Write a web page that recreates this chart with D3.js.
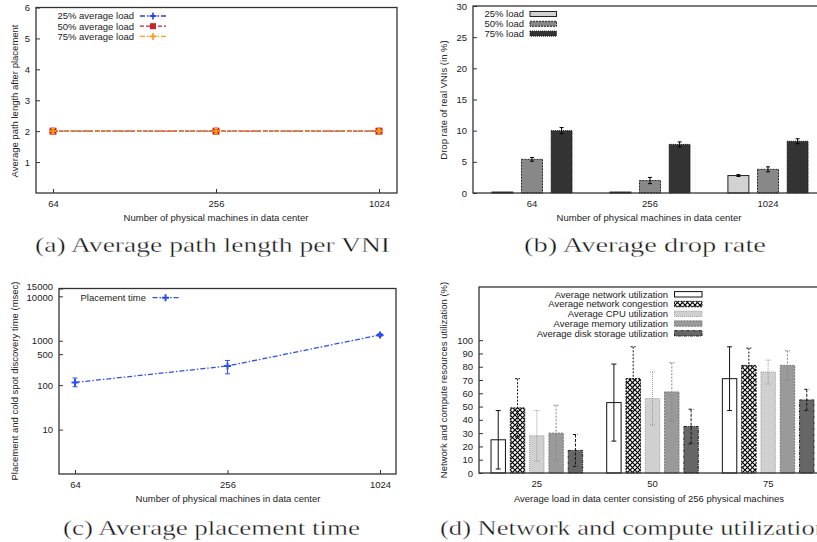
<!DOCTYPE html>
<html><head><meta charset="utf-8">
<script src="https://cdn.jsdelivr.net/npm/d3@7"></script>
<style>
body{margin:0;background:#fff}
svg{display:block}
text{font-family:"Liberation Sans",Arial,Helvetica,sans-serif;fill:#222}
text.cap{font-family:"Liberation Serif",Tinos,"Times New Roman",serif;fill:#111}
</style>
</head><body>
<svg id="c" width="817" height="542"></svg>
<script>
// ---------------- DATA ----------------
const machines = [64, 256, 1024];

// (a) average path length
const pathNames = ["25% average load", "50% average load", "75% average load"];
const path25 = [2.0, 2.0, 2.0];
const path50 = [2.0, 2.0, 2.0];
const path75 = [2.0, 2.0, 2.0];
const pathErr = [0.08, 0.08, 0.06];
const pathTicks = [1, 2, 3, 4, 5, 6];

// (b) drop rate
const dropNames = ["25% load", "50% load", "75% load"];
const drop25 = [0.15, 0.15, 2.8];
const drop50 = [5.4, 2.0, 3.8];
const drop75 = [10.0, 7.8, 8.3];
const drop25Err = [0, 0, 0.15];
const drop50Err = [0.3, 0.5, 0.4];
const drop75Err = [0.5, 0.4, 0.4];
const dropTicks = [0, 5, 10, 15, 20, 25, 30];

// (c) placement time
const placeName = "Placement time";
const placeTime = [115, 270, 1350];
const placeLo = [92, 180, 1260];
const placeHi = [145, 360, 1440];
const placeTicks = [10, 100, 500, 1000, 10000, 15000];

// (d) utilization
const loadLevels = ["25", "50", "75"];
const utilNames = ["Average network utilization", "Average network congestion", "Average CPU utilization", "Average memory utilization", "Average disk storage utilization"];
const utilNet = [25, 53, 71], netLo = [3, 24, 47], netHi = [47, 82, 95];
const utilCong = [49, 71, 81], congLo = [27, 47, 68], congHi = [71, 95, 94];
const utilCpu = [28, 56, 76], cpuLo = [9, 36, 67], cpuHi = [47, 76, 85];
const utilMem = [30, 61, 81], memLo = [9, 39, 70], memHi = [51, 83, 92];
const utilDisk = [17, 35, 55], diskLo = [5, 22, 47], diskHi = [29, 48, 63];
const utilTicks = [0, 10, 20, 30, 40, 50, 60, 70, 80, 90, 100];

const captions = ["(a) Average path length per VNI", "(b) Average drop rate", "(c) Average placement time", "(d) Network and compute utilization"];

// ---------------- DRAW ----------------
const svg = d3.select("#c");
const defs = svg.append("defs");
const pat = defs.append("pattern").attr("id", "xhatch").attr("patternUnits", "userSpaceOnUse")
  .attr("width", 5).attr("height", 5);
pat.append("rect").attr("width", 5).attr("height", 5).attr("fill", "#fff");
pat.append("path").attr("d", "M-1,-1L6,6M6,-1L-1,6").attr("stroke", "#000").attr("stroke-width", 1.2);

const FS = 9.5;
const AX = "#333";

function frame(P) {
  svg.append("rect").attr("x", P.l).attr("y", P.t).attr("width", P.r - P.l).attr("height", P.b - P.t)
    .attr("fill", "none").attr("stroke", AX).attr("stroke-width", 1.3);
}
function yAxis(P, y, ticks, fmt) {
  const g = svg.append("g").attr("transform", `translate(${P.l},0)`)
    .call(d3.axisLeft(y).tickValues(ticks).tickSizeInner(-4).tickSizeOuter(0).tickPadding(6).tickFormat(fmt || d3.format("d")));
  g.select(".domain").remove();
  g.selectAll("line").attr("stroke", AX);
  g.selectAll("text").attr("font-size", FS).attr("fill", "#222").attr("font-family", null);
  return g;
}
function xAxis(P, x, ticks, withLines) {
  const ax = d3.axisBottom(x).tickSizeInner(withLines ? -4 : 0).tickSizeOuter(0).tickPadding(7);
  if (ticks) ax.tickValues(ticks).tickFormat(d3.format("d"));
  const g = svg.append("g").attr("transform", `translate(0,${P.b})`).call(ax);
  g.select(".domain").remove();
  g.selectAll("line").attr("stroke", AX);
  if (!withLines) g.selectAll("line").remove();
  g.selectAll("text").attr("font-size", FS).attr("fill", "#222").attr("font-family", null);
}
function label(x, y, txt, rot) {
  const t = svg.append("text").attr("font-size", FS).attr("text-anchor", "middle").attr("dy", "0.35em").text(txt);
  if (rot) t.attr("transform", `translate(${x},${y}) rotate(-90)`);
  else t.attr("x", x).attr("y", y);
}
function plus(g, x, y, s, color, w) {
  g.append("path").attr("d", `M${x - s},${y}H${x + s}M${x},${y - s}V${y + s}`).attr("stroke", color).attr("stroke-width", w || 1.3);
}

// ===== Panel (a) =====
{
  const P = {l: 36, t: 7.5, r: 397, b: 193};
  const x = d3.scaleLog().base(2).domain(d3.extent(machines)).range([P.l + 17, P.r - 18]);
  const y = d3.scaleLinear().domain([0, 6]).range([P.b, P.t]);
  const series = [
    {name: pathNames[0], vals: path25, color: "#1f3cf0", dash: "5,2,1.5,2", mark: "plus"},
    {name: pathNames[1], vals: path50, color: "#c8252b", dash: "4,2", mark: "square"},
    {name: pathNames[2], vals: path75, color: "#ff9a10", dash: "5,2,1.5,2", mark: "plus"}
  ];
  const g = svg.append("g");
  const line = d3.line().x((d, i) => x(machines[i])).y(d => y(d));
  series.forEach(s => {
    g.append("path").attr("d", line(s.vals)).attr("fill", "none").attr("stroke", s.color)
      .attr("stroke-width", 1.3).attr("stroke-dasharray", s.dash);
  });
  series.forEach(s => {
    s.vals.forEach((v, i) => {
      const cx = x(machines[i]), cy = y(v);
      g.append("path").attr("d", `M${cx - 2},${y(v + pathErr[i])}H${cx + 2}M${cx},${y(v + pathErr[i])}V${y(v - pathErr[i])}M${cx - 2},${y(v - pathErr[i])}H${cx + 2}`)
        .attr("stroke", s.color).attr("stroke-width", 1.2).attr("fill", "none");
      if (s.mark === "square") {
        g.append("rect").attr("x", cx - 3.5).attr("y", cy - 3.5).attr("width", 7).attr("height", 7).attr("fill", s.color);
      } else plus(g, cx, cy, 3.5, s.color, 1.6);
    });
  });
  frame(P);
  yAxis(P, y, pathTicks);
  xAxis(P, x, machines, true);
  label(15, 101, "Average path length after placement", true);
  label(216, 218, "Number of physical machines in data center");
  // legend
  series.forEach((s, i) => {
    const ly = 16 + i * 10.2;
    svg.append("text").attr("x", 134).attr("y", ly).attr("dy", "0.35em").attr("text-anchor", "end").attr("font-size", FS).text(s.name);
    svg.append("line").attr("x1", 140).attr("x2", 166).attr("y1", ly).attr("y2", ly).attr("stroke", s.color)
      .attr("stroke-width", 1.3).attr("stroke-dasharray", s.dash);
    if (s.mark === "square") svg.append("rect").attr("x", 150).attr("y", ly - 3).attr("width", 6).attr("height", 6).attr("fill", s.color);
    else plus(svg, 153, ly, 3.5, s.color, 1.6);
  });
}

// ===== Panel (b) =====
{
  const P = {l: 473, t: 6, r: 827, b: 193};
  const x = d3.scaleBand().domain(machines).range([P.l, P.r]).padding(0);
  const y = d3.scaleLinear().domain([0, 30]).range([P.b, P.t]);
  const series = [
    {name: dropNames[0], vals: drop25, err: drop25Err, fill: "#d2d2d2", stroke: "#222", dash: null},
    {name: dropNames[1], vals: drop50, err: drop50Err, fill: "#888", stroke: "#222", dash: "2,1"},
    {name: dropNames[2], vals: drop75, err: drop75Err, fill: "#333", stroke: "#111", dash: "1,1"}
  ];
  const pitch = 29.6, bw = 21;
  series.forEach((s, si) => {
    s.vals.forEach((v, i) => {
      const cx = x(machines[i]) + x.bandwidth() / 2 + (si - 1) * pitch;
      svg.append("rect").attr("x", cx - bw / 2).attr("y", y(v)).attr("width", bw).attr("height", y(0) - y(v))
        .attr("fill", s.fill).attr("stroke", s.stroke).attr("stroke-width", 1).attr("stroke-dasharray", s.dash);
      if (s.err[i] > 0) {
        const t = y(v + s.err[i]), b = y(v - s.err[i]);
        svg.append("path").attr("d", `M${cx - 2},${t}H${cx + 2}M${cx},${t}V${b}M${cx - 2},${b}H${cx + 2}`)
          .attr("stroke", "#000").attr("stroke-width", 1).attr("fill", "none");
      }
    });
  });
  frame(P);
  yAxis(P, y, dropTicks);
  xAxis(P, x, null, false);
  label(444, 100, "Drop rate of real VNIs (in %)", true);
  label(649, 218, "Number of physical machines in data center");
  series.forEach((s, i) => {
    const ly = 14 + i * 9.8;
    svg.append("text").attr("x", 524).attr("y", ly).attr("dy", "0.35em").attr("text-anchor", "end").attr("font-size", FS).text(s.name);
    svg.append("rect").attr("x", 530).attr("y", ly - 2.5).attr("width", 26.5).attr("height", 5)
      .attr("fill", s.fill).attr("stroke", s.stroke).attr("stroke-width", 1).attr("stroke-dasharray", s.dash);
  });
}

// ===== Panel (c) =====
{
  const P = {l: 59, t: 288.5, r: 396, b: 474};
  const x = d3.scaleLog().base(2).domain(d3.extent(machines)).range([P.l + 16, P.r - 16]);
  const y = d3.scaleLog().domain([1, 15000]).range([P.b, P.t]);
  const color = "#2a4ef0";
  const line = d3.line().x((d, i) => x(machines[i])).y(d => y(d));
  svg.append("path").attr("d", line(placeTime)).attr("fill", "none").attr("stroke", color)
    .attr("stroke-width", 1.3).attr("stroke-dasharray", "5,2,1.5,2");
  placeTime.forEach((v, i) => {
    const cx = x(machines[i]), t = y(placeHi[i]), b = y(placeLo[i]);
    svg.append("path").attr("d", `M${cx - 2.5},${t}H${cx + 2.5}M${cx},${t}V${b}M${cx - 2.5},${b}H${cx + 2.5}`)
      .attr("stroke", color).attr("stroke-width", 1).attr("fill", "none");
    plus(svg, cx, y(v), 3.5, color, 2);
  });
  frame(P);
  const gy = yAxis(P, y, placeTicks);
  // the two top labels are squeezed together, as in the original
  gy.selectAll("text").filter(d => d === 15000).attr("dy", "0.1em");
  gy.selectAll("text").filter(d => d === 10000).attr("dy", "0.45em");
  xAxis(P, x, machines, true);
  label(15, 381, "Placement and cold spot discovery time (msec)", true);
  label(228, 499, "Number of physical machines in data center");
  const ly = 297.7;
  svg.append("text").attr("x", 146).attr("y", ly).attr("dy", "0.35em").attr("text-anchor", "end").attr("font-size", FS).text(placeName);
  svg.append("line").attr("x1", 152.5).attr("x2", 179).attr("y1", ly).attr("y2", ly).attr("stroke", color)
    .attr("stroke-width", 1.3).attr("stroke-dasharray", "5,2,1.5,2");
  plus(svg, 165.5, ly, 3.5, color, 2);
}

// ===== Panel (d) =====
{
  const P = {l: 479, t: 287, r: 826, b: 473};
  const x = d3.scaleBand().domain(loadLevels).range([P.l, P.r]).padding(0);
  const y = d3.scaleLinear().domain([0, 140]).range([P.b, P.t]);
  const series = [
    {name: utilNames[0], vals: utilNet, lo: netLo, hi: netHi, fill: "#fff", stroke: "#111", dash: null, ec: "#111", ed: null},
    {name: utilNames[1], vals: utilCong, lo: congLo, hi: congHi, fill: "url(#xhatch)", stroke: "#111", dash: "2,1", ec: "#111", ed: "2,1.5"},
    {name: utilNames[2], vals: utilCpu, lo: cpuLo, hi: cpuHi, fill: "#d0d0d0", stroke: "#999", dash: "1,1", ec: "#999", ed: "1,1"},
    {name: utilNames[3], vals: utilMem, lo: memLo, hi: memHi, fill: "#9a9a9a", stroke: "#777", dash: "2,1", ec: "#888", ed: "2,1.5"},
    {name: utilNames[4], vals: utilDisk, lo: diskLo, hi: diskHi, fill: "#666", stroke: "#222", dash: "3,1,1,1", ec: "#111", ed: "3,1.5"}
  ];
  const pitch = 19.3, bw = 14.4;
  series.forEach((s, si) => {
    s.vals.forEach((v, i) => {
      const cx = x(loadLevels[i]) + x.bandwidth() / 2 + (si - 2) * pitch;
      svg.append("rect").attr("x", cx - bw / 2).attr("y", y(v)).attr("width", bw).attr("height", y(0) - y(v))
        .attr("fill", s.fill).attr("stroke", s.stroke).attr("stroke-width", 1).attr("stroke-dasharray", s.dash);
    });
  });
  series.forEach((s, si) => {
    s.vals.forEach((v, i) => {
      const cx = x(loadLevels[i]) + x.bandwidth() / 2 + (si - 2) * pitch;
      const t = y(s.hi[i]), b = y(s.lo[i]);
      svg.append("path").attr("d", `M${cx - 2.5},${t}H${cx + 2.5}M${cx},${t}V${b}M${cx - 2.5},${b}H${cx + 2.5}`)
        .attr("stroke", s.ec).attr("stroke-width", 1).attr("fill", "none").attr("stroke-dasharray", s.ed);
    });
  });
  frame(P);
  yAxis(P, y, utilTicks);
  xAxis(P, x, null, false);
  label(444, 380, "Network and compute resources utilization (%)", true);
  label(649, 499, "Average load in data center consisting of 256 physical machines");
  series.forEach((s, i) => {
    const ly = 294.3 + i * 9.75;
    svg.append("text").attr("x", 668).attr("y", ly).attr("dy", "0.35em").attr("text-anchor", "end").attr("font-size", FS).text(s.name);
    svg.append("rect").attr("x", 674.5).attr("y", ly - 2.7).attr("width", 27.5).attr("height", 5.4)
      .attr("fill", s.fill).attr("stroke", s.stroke).attr("stroke-width", 1).attr("stroke-dasharray", s.dash);
  });
}

// ===== Captions =====
const capPos = [[35, 252, 355], [524, 252, 242], [63, 535, 297], [440, 535, 388]];
captions.forEach((c, i) => {
  svg.append("text").attr("class", "cap").attr("x", capPos[i][0]).attr("y", capPos[i][1])
    .attr("font-size", 21).attr("textLength", capPos[i][2]).attr("lengthAdjust", "spacingAndGlyphs")
    .attr("stroke", "#fff").attr("stroke-width", 0.35).attr("paint-order", "normal").text(c);
});
</script>
</body></html>
